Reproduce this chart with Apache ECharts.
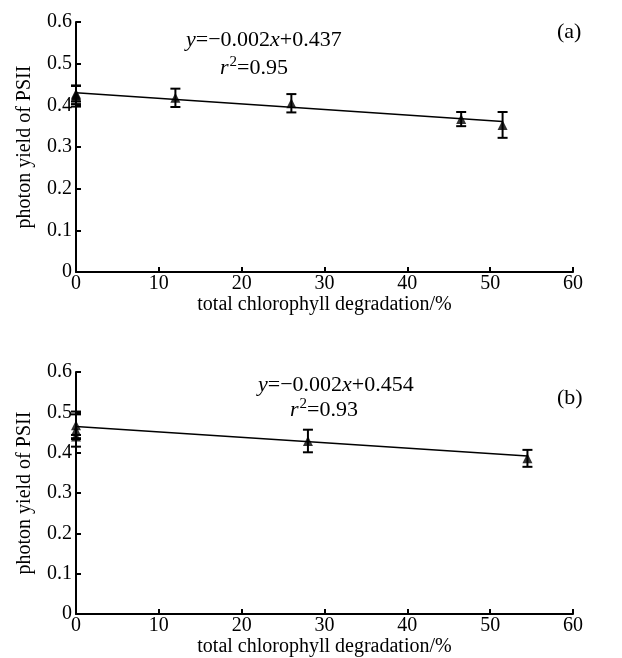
<!DOCTYPE html>
<html>
<head>
<meta charset="utf-8">
<script src="https://cdn.jsdelivr.net/npm/echarts@6/dist/echarts.min.js"></script>
<style>
  html, body { margin: 0; padding: 0; background: #fff; }
  #main { width: 622px; height: 658px; }
</style>
</head>
<body>
<div id="main"></div>
<script>
// panel (a)
var topX = [0, 0, 0, 12, 26, 46.5, 51.5];
var topY = [0.428, 0.425, 0.422, 0.418, 0.405, 0.367, 0.353];
var topErr = [0.019, 0.022, 0.025, 0.022, 0.022, 0.017, 0.031];
var topFitX = [0, 51.5];
var topFitY = [0.430, 0.361];
// panel (b)
var botX = [0, 0, 0, 28, 54.5];
var botY = [0.468, 0.455, 0.440, 0.429, 0.386];
var botErr = [0.034, 0.040, 0.004, 0.028, 0.021];
var botFitX = [0, 54.5];
var botFitY = [0.465, 0.392];

var FONT = '"Liberation Serif", "Times New Roman", serif';

function pairs(xs, ys) {
  return xs.map(function (x, i) { return [x, ys[i]]; });
}
function errData(xs, ys, es) {
  return xs.map(function (x, i) { return [x, ys[i] - es[i], ys[i] + es[i]]; });
}

function errRender(params, api) {
  var lo = api.coord([api.value(0), api.value(1)]);
  var hi = api.coord([api.value(0), api.value(2)]);
  var w = 5;
  var st = { stroke: '#000', lineWidth: 2 };
  return {
    type: 'group',
    children: [
      { type: 'line', shape: { x1: lo[0], y1: lo[1], x2: hi[0], y2: hi[1] }, style: st },
      { type: 'line', shape: { x1: lo[0] - w, y1: lo[1], x2: lo[0] + w, y2: lo[1] }, style: st },
      { type: 'line', shape: { x1: hi[0] - w, y1: hi[1], x2: hi[0] + w, y2: hi[1] }, style: st }
    ]
  };
}

function xAxisOf(idx) {
  return {
    type: 'value', gridIndex: idx, min: 0, max: 60, interval: 10,
    name: 'total chlorophyll degradation/%', nameLocation: 'middle', nameGap: 19,
    nameTextStyle: { fontFamily: FONT, fontSize: 20, color: '#000' },
    axisLine: { lineStyle: { color: '#000', width: 2 } },
    axisTick: { inside: true, length: 5, lineStyle: { color: '#000', width: 2 } },
    axisLabel: { margin: 2, fontFamily: FONT, fontSize: 20, color: '#000' },
    splitLine: { show: false }
  };
}
function yAxisOf(idx) {
  return {
    type: 'value', gridIndex: idx, min: 0, max: 0.6, interval: 0.1,
    name: 'photon yield of PSII', nameLocation: 'middle', nameGap: 41,
    nameTextStyle: { fontFamily: FONT, fontSize: 20, color: '#000' },
    axisLine: { show: true, lineStyle: { color: '#000', width: 2 } },
    axisTick: { show: true, inside: true, length: 5, lineStyle: { color: '#000', width: 2 } },
    axisLabel: {
      margin: 4, fontFamily: FONT, fontSize: 20, color: '#000',
      formatter: function (v) { return v === 0 ? '0' : v.toFixed(1); }
    },
    splitLine: { show: false }
  };
}

function seriesOf(idx, xs, ys, es, fx, fy) {
  return [
    {
      type: 'line', xAxisIndex: idx, yAxisIndex: idx, data: pairs(fx, fy),
      symbol: 'none', lineStyle: { color: '#000', width: 1.5 }, z: 2
    },
    {
      type: 'custom', xAxisIndex: idx, yAxisIndex: idx, data: errData(xs, ys, es),
      renderItem: errRender, z: 3
    },
    {
      type: 'scatter', xAxisIndex: idx, yAxisIndex: idx, data: pairs(xs, ys),
      symbol: 'triangle', symbolSize: 10, itemStyle: { color: '#000' }, z: 4
    }
  ];
}

function eqText(left, top, str) {
  return {
    type: 'text', left: left, top: top,
    style: {
      text: str, fontFamily: FONT, fontSize: 22, fill: '#000', lineHeight: 26,
      rich: {
        i: { fontStyle: 'italic', fontFamily: FONT, fontSize: 22, lineHeight: 26 },
        n: { fontFamily: FONT, fontSize: 22, lineHeight: 26 },
        s: { fontFamily: FONT, fontSize: 15, lineHeight: 26, padding: [0, 0, 12, 1] }
      }
    }
  };
}

var chart = echarts.init(document.getElementById('main'));
chart.setOption({
  animation: false,
  grid: [
    { left: 76, top: 22, width: 497, height: 250 },
    { left: 76, top: 372, width: 497, height: 248 }
  ],
  xAxis: [xAxisOf(0), xAxisOf(1)],
  yAxis: [yAxisOf(0), yAxisOf(1)],
  series: seriesOf(0, topX, topY, topErr, topFitX, topFitY)
    .concat(seriesOf(1, botX, botY, botErr, botFitX, botFitY)),
  graphic: [
    eqText(186, 27, '{i|y}{n|=\u22120.002}{i|x}{n|+0.437}'),
    eqText(220, 55, '{i|r}{s|2}{n|=0.95}'),
    eqText(557, 19, '{n|(a)}'),
    eqText(258, 372, '{i|y}{n|=\u22120.002}{i|x}{n|+0.454}'),
    eqText(290, 397, '{i|r}{s|2}{n|=0.93}'),
    eqText(557, 385, '{n|(b)}')
  ]
});
</script>
</body>
</html>
